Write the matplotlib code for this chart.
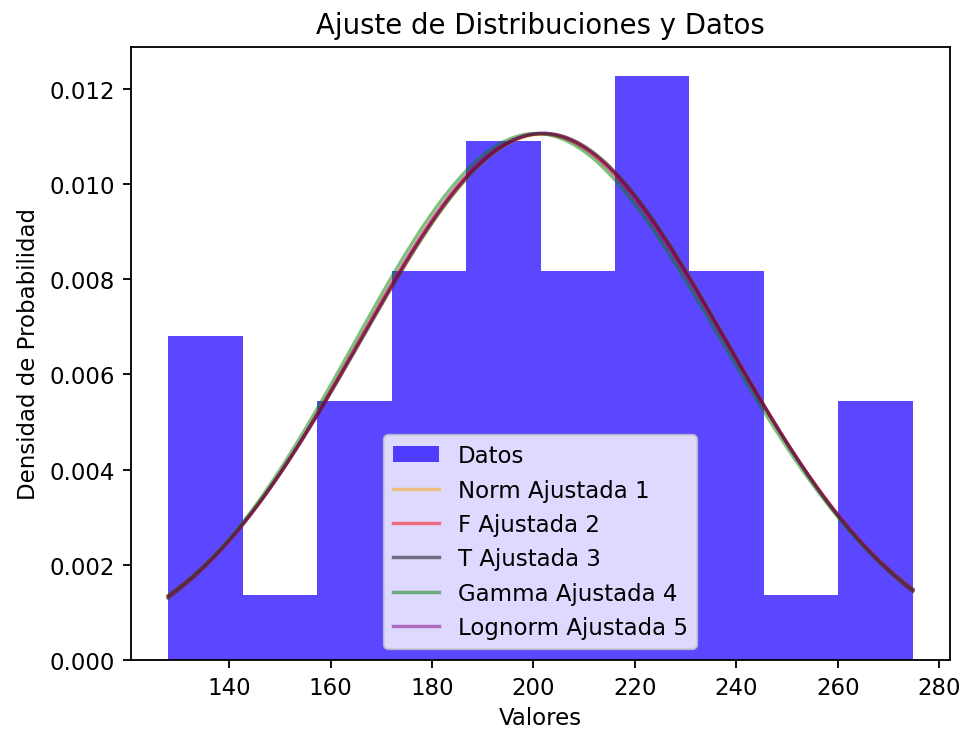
import math
import numpy as np
import matplotlib
matplotlib.use("Agg")
import matplotlib.pyplot as plt

# Histogram: bin edges and counts of the sample (n = 50)
bin_edges = np.linspace(128.0, 274.8, 11)
bin_counts = [5, 1, 4, 6, 8, 6, 9, 6, 1, 4]

# Fitted distribution parameters
norm_params = dict(mu=202.0, sigma=36.1)
f_params = dict(dfn=20000.0, dfd=20000.0, loc=-2351.0, scale=2553.0)
t_params = dict(df=500.0, loc=202.0, scale=36.05)
gamma_params = dict(a=600.0, loc=-682.4, scale=1.474)
lognorm_params = dict(s=0.01, loc=-3405.0, scale=3607.0)

series_labels = ["Norm Ajustada 1", "F Ajustada 2", "T Ajustada 3",
                 "Gamma Ajustada 4", "Lognorm Ajustada 5"]
series_colors = ["orange", "red", "black", "green", "purple"]


def norm_pdf(x, mu, sigma):
    return np.exp(-0.5 * ((x - mu) / sigma) ** 2) / (sigma * math.sqrt(2 * math.pi))


def f_pdf(x, dfn, dfd, loc, scale):
    z = (x - loc) / scale
    logc = (math.lgamma((dfn + dfd) / 2) - math.lgamma(dfn / 2) - math.lgamma(dfd / 2)
            + (dfn / 2) * math.log(dfn / dfd))
    logp = logc + (dfn / 2 - 1) * np.log(z) - ((dfn + dfd) / 2) * np.log1p(dfn * z / dfd)
    return np.exp(logp) / scale


def t_pdf(x, df, loc, scale):
    z = (x - loc) / scale
    logc = (math.lgamma((df + 1) / 2) - math.lgamma(df / 2)
            - 0.5 * math.log(df * math.pi))
    return np.exp(logc - ((df + 1) / 2) * np.log1p(z * z / df)) / scale


def gamma_pdf(x, a, loc, scale):
    z = (x - loc) / scale
    return np.exp((a - 1) * np.log(z) - z - math.lgamma(a)) / scale


def lognorm_pdf(x, s, loc, scale):
    z = (x - loc) / scale
    return np.exp(-0.5 * (np.log(z) / s) ** 2) / (z * s * math.sqrt(2 * math.pi)) / scale


DPI = 165
fig = plt.figure(figsize=(964 / DPI, 730 / DPI), dpi=DPI)
ax = fig.add_axes([131 / 964, 1 - 661 / 730, 819 / 964, 613 / 730])

centers = 0.5 * (bin_edges[:-1] + bin_edges[1:])
ax.hist(centers, bins=bin_edges, weights=bin_counts, density=True,
        color="#1a00ff", alpha=0.72, label="Datos")

x = np.linspace(bin_edges[0], bin_edges[-1], 200)
curves = [
    norm_pdf(x, **norm_params),
    f_pdf(x, **f_params),
    t_pdf(x, **t_params),
    gamma_pdf(x, **gamma_params),
    lognorm_pdf(x, **lognorm_params),
]
for y, lab, col in zip(curves, series_labels, series_colors):
    ax.plot(x, y, color=col, alpha=0.5, label=lab)

ax.set_title("Ajuste de Distribuciones y Datos")
ax.set_xlabel("Valores", labelpad=3.2)
ax.set_ylabel("Densidad de Probabilidad")
ax.legend()

fig.savefig("out.png", dpi=DPI)
